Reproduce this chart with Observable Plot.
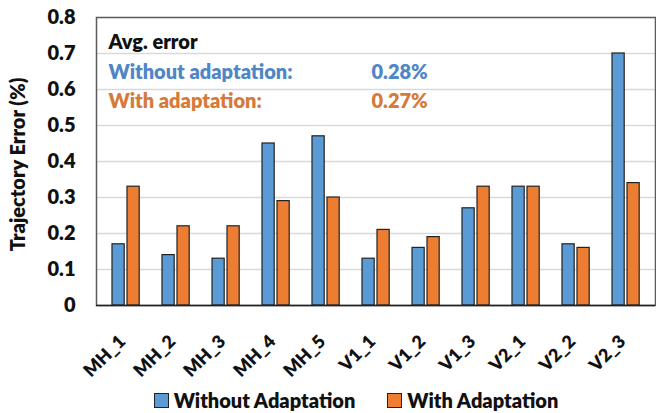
<!DOCTYPE html>
<html>
<head>
<meta charset="utf-8">
<script src="https://cdn.jsdelivr.net/npm/d3@7"></script>
<script src="https://cdn.jsdelivr.net/npm/@observablehq/plot@0.6"></script>
<style>
  html, body { margin: 0; padding: 0; background: #fff; }
  #wrap { position: relative; width: 656px; height: 413px; font-family: Lato, "Open Sans", sans-serif; font-weight: 800; }
  #chart svg { display: block; }
  #legend { position: absolute; left: 0; top: 388px; width: 656px; display: flex; justify-content: center; gap: 32px; font-size: 20px; line-height: 24px; color: #111; padding-left: 56px; box-sizing: border-box; }
  #legend .item { display: flex; align-items: center; gap: 5px; }
  #legend .sw { width: 13px; height: 13px; border: 1.2px solid #222; display: inline-block; }
</style>
</head>
<body>
<div id="wrap">
  <div id="chart"></div>
  <div id="legend"></div>
</div>
<script>
const categories = ["MH_1", "MH_2", "MH_3", "MH_4", "MH_5", "V1_1", "V1_2", "V1_3", "V2_1", "V2_2", "V2_3"];
const withoutAdaptation = [0.17, 0.14, 0.13, 0.45, 0.47, 0.13, 0.16, 0.27, 0.33, 0.17, 0.70];
const withAdaptation = [0.33, 0.22, 0.22, 0.29, 0.30, 0.21, 0.19, 0.33, 0.33, 0.16, 0.34];
const seriesNames = ["Without Adaptation", "With Adaptation"];
const seriesColors = ["#5B9BD5", "#ED7D31"];
const yTicks = [0, 0.1, 0.2, 0.3, 0.4, 0.5, 0.6, 0.7, 0.8];
const yLabel = "Trajectory Error (%)";
const avgTitle = "Avg. error";
const avgLabels = ["Without adaptation:", "With adaptation:"];
const avgValues = ["0.28%", "0.27%"];
const textColors = ["#4F86C6", "#D67A3A"];

const dataWithout = categories.map((c, i) => ({category: c, value: withoutAdaptation[i]}));
const dataWith = categories.map((c, i) => ({category: c, value: withAdaptation[i]}));

const chart = Plot.plot({
  width: 656,
  height: 384,
  marginLeft: 96,
  marginRight: 1,
  marginTop: 17,
  marginBottom: 79,
  style: {fontFamily: "Lato, 'Open Sans', sans-serif", fontWeight: "800", fontSize: "20px", color: "#111", overflow: "visible"},
  x: {domain: categories, padding: 0, axis: null},
  y: {domain: [0, 0.8], ticks: yTicks, axis: null},
  marks: [
    Plot.gridY(yTicks.filter(d => d > 0 && d < 0.8), {stroke: "#d9d9d9", strokeOpacity: 1, strokeWidth: 1.5}),
    Plot.frame({stroke: "#5a5a5a", strokeWidth: 1.5}),
    Plot.barY(dataWithout, {x: "category", y: "value", fill: seriesColors[0], stroke: "#222", strokeWidth: 1.2, insetLeft: 11, insetRight: 26.8}),
    Plot.barY(dataWith, {x: "category", y: "value", fill: seriesColors[1], stroke: "#222", strokeWidth: 1.2, insetLeft: 26, insetRight: 11.8}),
    Plot.ruleY([0], {stroke: "#222", strokeWidth: 1.5}),
    Plot.axisY({ticks: yTicks, tickSize: 0, tickPadding: 21, tickFormat: d => d === 0 ? "0" : d3.format(".1f")(d), label: null, fontSize: 20, fill: "#111"}),
    Plot.text([yLabel], {text: d => d, frameAnchor: "left", rotate: -90, textAnchor: "middle", lineAnchor: "middle", dx: -78, dy: 3, fontSize: 20, fill: "#111"}),
    Plot.text(categories, {x: d => d, text: d => d, frameAnchor: "bottom", rotate: -45, textAnchor: "end", lineAnchor: "middle", dx: -4, dy: 33, fontSize: 18, fill: "#111"}),
    Plot.text([avgTitle], {text: d => d, frameAnchor: "top-left", textAnchor: "start", lineAnchor: "middle", dx: 12, dy: 25, fill: "#111", fontSize: 20}),
    Plot.text([avgLabels[0]], {text: d => d, frameAnchor: "top-left", textAnchor: "start", lineAnchor: "middle", dx: 12, dy: 55, fill: textColors[0], fontSize: 20}),
    Plot.text([avgLabels[1]], {text: d => d, frameAnchor: "top-left", textAnchor: "start", lineAnchor: "middle", dx: 12, dy: 84, fill: textColors[1], fontSize: 20}),
    Plot.text([avgValues[0]], {text: d => d, frameAnchor: "top-left", textAnchor: "start", lineAnchor: "middle", dx: 275, dy: 55, fill: textColors[0], fontSize: 20}),
    Plot.text([avgValues[1]], {text: d => d, frameAnchor: "top-left", textAnchor: "start", lineAnchor: "middle", dx: 275, dy: 84, fill: textColors[1], fontSize: 20})
  ]
});
document.getElementById("chart").appendChild(chart);

const legend = document.getElementById("legend");
seriesNames.forEach((name, i) => {
  const item = document.createElement("div");
  item.className = "item";
  const sw = document.createElement("span");
  sw.className = "sw";
  sw.style.background = seriesColors[i];
  const label = document.createElement("span");
  label.textContent = name;
  item.appendChild(sw);
  item.appendChild(label);
  legend.appendChild(item);
});
</script>
</body>
</html>
